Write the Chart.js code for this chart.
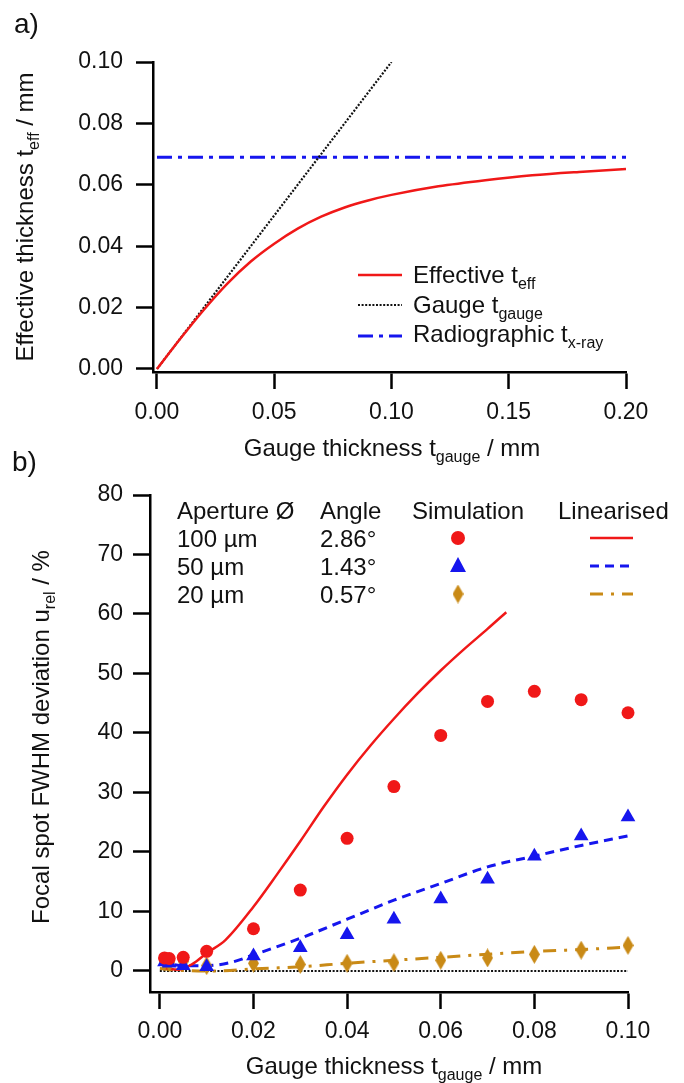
<!DOCTYPE html>
<html><head><meta charset="utf-8">
<script src="https://cdn.jsdelivr.net/npm/chart.js@4.4.1/dist/chart.umd.min.js"></script>
<style>
html,body{margin:0;padding:0;background:#fff;}
#wrap{position:relative;width:684px;height:1083px;}
canvas{position:absolute;left:0;top:0;}
</style></head><body>
<div id="wrap">
<canvas id="ca" width="684" height="1083"></canvas>
<canvas id="cb" width="684" height="1083"></canvas>
</div>
<script>
// ---------- Panel a data ----------
const gaugeA     = [0, 0.01, 0.02, 0.03, 0.04, 0.05, 0.06, 0.07, 0.08, 0.09, 0.10, 0.12, 0.14, 0.16, 0.18, 0.20];
const effectiveA = [0, 0.0099, 0.0193, 0.0278, 0.0350, 0.0408, 0.0457, 0.0496, 0.0526, 0.0549, 0.0567, 0.0595, 0.0615, 0.0631, 0.0642, 0.0651];
const gaugeLineX = [0, 0.10];
const gaugeLineY = [0, 0.10];
const xrayX      = [0, 0.20];
const xrayY      = [0.069, 0.069];
const ticksAX    = [0, 0.05, 0.10, 0.15, 0.20];
const ticksAY    = [0, 0.02, 0.04, 0.06, 0.08, 0.10];

// ---------- Panel b data ----------
const simX    = [0.001, 0.002, 0.005, 0.01, 0.02, 0.03, 0.04, 0.05, 0.06, 0.07, 0.08, 0.09, 0.10];
const sim100  = [2.2, 2.1, 2.3, 3.3, 7.1, 13.6, 22.3, 31.0, 39.6, 45.3, 47.0, 45.6, 43.4];
const sim50   = [1.5, 1.3, 0.9, 0.7, 2.5, 3.9, 6.1, 8.7, 12.1, 15.4, 19.3, 22.7, 25.9];
const sim20   = [1.6, 1.4, 1.6, 0.9, 1.3, 1.1, 1.3, 1.4, 1.8, 2.2, 2.8, 3.5, 4.3];
const lin100X = [0.001, 0.004, 0.007, 0.01, 0.014, 0.02, 0.025, 0.03, 0.035, 0.04, 0.045, 0.05, 0.055, 0.06, 0.065, 0.07, 0.074];
const lin100  = [0.5, 0.2, 1.2, 3.0, 5.2, 10.8, 16.2, 21.8, 27.6, 33.0, 37.9, 42.4, 46.6, 50.5, 54.1, 57.5, 60.3];
const linX    = [0, 0.005, 0.01, 0.015, 0.02, 0.03, 0.04, 0.05, 0.06, 0.07, 0.08, 0.09, 0.10];
const lin50   = [1.6, 0.9, 0.9, 1.4, 2.7, 5.5, 8.7, 11.9, 14.7, 17.5, 19.3, 21.1, 22.7];
const lin20   = [0.4, 0.1, 0.0, 0.1, 0.35, 0.7, 1.3, 1.8, 2.3, 2.8, 3.3, 3.6, 4.0];
const zeroX   = [0, 0.10];
const zeroY   = [0, 0];
const ticksBX = [0, 0.02, 0.04, 0.06, 0.08, 0.10];
const ticksBY = [0, 10, 20, 30, 40, 50, 60, 70, 80];
const apertures = ['100 µm', '50 µm', '20 µm'];
const angles    = ['2.86°', '1.43°', '0.57°'];

// ---------- styling ----------
const FONT = '"Liberation Sans", Arial, sans-serif';
const RED = '#f01818', BLUE = '#1616ee', GOLD = '#c98a16', TXT = '#111';
const DASH_XRAY = [15, 6, 4, 6];
const DASH_50 = [9, 6];
const DASH_20 = [13, 8, 3, 8];
const DOT = [2, 1.6];

const pts = (xs, ys) => xs.map((x, i) => ({x: x, y: ys[i]}));

function diamondImg(color) {
  const c = document.createElement('canvas');
  c.width = 11; c.height = 19;
  const g = c.getContext('2d');
  g.fillStyle = color;
  g.beginPath(); g.moveTo(5.5, 0); g.lineTo(11, 9.5); g.lineTo(5.5, 19); g.lineTo(0, 9.5); g.closePath(); g.fill();
  return c;
}
const DIAMOND = diamondImg(GOLD);

function axisX(min, max, ticks, h, pad, dec) {
  return {
    type: 'linear', min: min, max: max,
    afterBuildTicks: s => { s.ticks = ticks.map(v => ({value: v})); },
    afterFit: s => { s.height = h; },
    ticks: {font: {family: FONT, size: 23}, color: TXT, padding: pad, maxRotation: 0, autoSkip: false,
            callback: v => Number(v).toFixed(dec)},
    grid: {drawOnChartArea: false, drawTicks: true, tickLength: 17, tickWidth: 2.5, color: '#000'},
    border: {display: true, color: '#000', width: 2.5},
    title: {display: false}
  };
}
function axisY(min, max, ticks, w, pad, dec) {
  return {
    type: 'linear', min: min, max: max,
    afterBuildTicks: s => { s.ticks = ticks.map(v => ({value: v})); },
    afterFit: s => { s.width = w; },
    ticks: {font: {family: FONT, size: 23}, color: TXT, padding: pad, autoSkip: false,
            callback: v => Number(v).toFixed(dec)},
    grid: {drawOnChartArea: false, drawTicks: true, tickLength: 17, tickWidth: 2.5, color: '#000'},
    border: {display: true, color: '#000', width: 2.5},
    title: {display: false}
  };
}

function drawRich(ctx, parts, x, y, opt) {
  opt = opt || {};
  const size = opt.size || 24, sub = opt.sub || 16;
  const mainF = size + 'px ' + FONT, subF = sub + 'px ' + FONT;
  ctx.save();
  ctx.translate(x, y);
  if (opt.rot) ctx.rotate(opt.rot);
  let w = 0;
  for (const p of parts) { ctx.font = p[1] ? subF : mainF; w += ctx.measureText(p[0]).width; }
  let cx = opt.align === 'center' ? -w / 2 : (opt.align === 'right' ? -w : 0);
  ctx.textBaseline = 'alphabetic';
  ctx.fillStyle = TXT;
  for (const p of parts) {
    ctx.font = p[1] ? subF : mainF;
    ctx.fillText(p[0], cx, p[1] ? 6 : 0);
    cx += ctx.measureText(p[0]).width;
  }
  ctx.restore();
}
function sample(ctx, x1, x2, y, color, dash, width) {
  ctx.save();
  ctx.strokeStyle = color; ctx.lineWidth = width; ctx.setLineDash(dash);
  ctx.beginPath(); ctx.moveTo(x1, y); ctx.lineTo(x2, y); ctx.stroke();
  ctx.restore();
}

// ---------- Panel a ----------
const textA = {
  id: 'textA',
  afterDraw(chart) {
    const ctx = chart.ctx;
    drawRich(ctx, [['a)', 0]], 14, 33, {size: 28});
    drawRich(ctx, [['Effective thickness t', 0], ['eff', 1], [' / mm', 0]], 33, 217, {rot: -Math.PI / 2, align: 'center'});
    drawRich(ctx, [['Gauge thickness t', 0], ['gauge', 1], [' / mm', 0]], 392, 456, {align: 'center'});
    sample(ctx, 358, 402, 275, RED, [], 2.5);
    sample(ctx, 358, 402, 305, '#111', DOT, 2.2);
    sample(ctx, 358, 402, 336, BLUE, DASH_XRAY, 3);
    drawRich(ctx, [['Effective t', 0], ['eff', 1]], 413, 283);
    drawRich(ctx, [['Gauge t', 0], ['gauge', 1]], 413, 313);
    drawRich(ctx, [['Radiographic t', 0], ['x-ray', 1]], 413, 342);
  }
};

new Chart(document.getElementById('ca'), {
  type: 'line',
  data: {
    datasets: [
      {label: 'Effective', data: pts(gaugeA, effectiveA), borderColor: RED, borderWidth: 2.5, pointRadius: 0, cubicInterpolationMode: 'monotone', fill: false},
      {label: 'Gauge', data: pts(gaugeLineX, gaugeLineY), borderColor: '#111', borderWidth: 2.2, borderDash: DOT, pointRadius: 0, fill: false},
      {label: 'Radiographic', data: pts(xrayX, xrayY), borderColor: BLUE, borderWidth: 3, borderDash: DASH_XRAY, pointRadius: 0, fill: false}
    ]
  },
  options: {
    responsive: false, animation: false, events: [],
    layout: {padding: {left: 0, top: 62, right: 58, bottom: 653}},
    plugins: {legend: {display: false}, tooltip: {enabled: false}},
    scales: {
      x: axisX(-0.0017, 0.20, ticksAX, 58, 10, 2),
      y: axisY(-0.001, 0.10, ticksAY, 153, 13, 2)
    }
  },
  plugins: [textA]
});

// ---------- Panel b ----------
const textB = {
  id: 'textB',
  afterDraw(chart) {
    const ctx = chart.ctx;
    drawRich(ctx, [['b)', 0]], 12, 471, {size: 28});
    drawRich(ctx, [['Focal spot FWHM deviation u', 0], ['rel', 1], [' / %', 0]], 49, 737, {rot: -Math.PI / 2, align: 'center'});
    drawRich(ctx, [['Gauge thickness t', 0], ['gauge', 1], [' / mm', 0]], 394, 1074, {align: 'center'});
    const hy = 518.5, rows = [538, 566, 594];
    drawRich(ctx, [['Aperture Ø', 0]], 177, hy);
    drawRich(ctx, [['Angle', 0]], 320, hy);
    drawRich(ctx, [['Simulation', 0]], 412, hy);
    drawRich(ctx, [['Linearised', 0]], 558, hy);
    for (let i = 0; i < 3; i++) {
      drawRich(ctx, [[apertures[i], 0]], 177, rows[i] + 8.5);
      drawRich(ctx, [[angles[i], 0]], 320, rows[i] + 8.5);
    }
    ctx.save();
    ctx.fillStyle = RED; ctx.beginPath(); ctx.arc(458, rows[0], 7, 0, Math.PI * 2); ctx.fill();
    ctx.fillStyle = BLUE; ctx.beginPath();
    ctx.moveTo(458, rows[1] - 9); ctx.lineTo(466, rows[1] + 6); ctx.lineTo(450, rows[1] + 6); ctx.closePath(); ctx.fill();
    ctx.drawImage(DIAMOND, 458 - 5.5, rows[2] - 9.5);
    ctx.restore();
    sample(ctx, 590, 633, rows[0], RED, [], 2.5);
    sample(ctx, 590, 633, rows[1], BLUE, DASH_50, 3);
    sample(ctx, 590, 633, rows[2], GOLD, DASH_20, 3);
  }
};

new Chart(document.getElementById('cb'), {
  type: 'line',
  data: {
    datasets: [
      {label: '100 µm sim', data: pts(simX, sim100), showLine: false, pointStyle: 'circle', pointRadius: 6.5, pointBackgroundColor: RED, pointBorderWidth: 0, borderColor: RED, order: 0, clip: false},
      {label: '50 µm sim', data: pts(simX, sim50), showLine: false, pointStyle: 'triangle', pointRadius: 8.5, pointBackgroundColor: BLUE, pointBorderWidth: 0, borderColor: BLUE, order: 0, clip: false},
      {label: '20 µm sim', data: pts(simX, sim20), showLine: false, pointStyle: DIAMOND, pointRadius: 9, pointBackgroundColor: GOLD, pointBorderWidth: 0, borderColor: GOLD, order: 0, clip: false},
      {label: '100 µm lin', data: pts(lin100X, lin100), borderColor: RED, borderWidth: 2.5, pointRadius: 0, cubicInterpolationMode: 'monotone', fill: false, order: 1},
      {label: '50 µm lin', data: pts(linX, lin50), borderColor: BLUE, borderWidth: 3, borderDash: DASH_50, pointRadius: 0, cubicInterpolationMode: 'monotone', fill: false, order: 1},
      {label: '20 µm lin', data: pts(linX, lin20), borderColor: GOLD, borderWidth: 3, borderDash: DASH_20, pointRadius: 0, cubicInterpolationMode: 'monotone', fill: false, order: 1},
      {label: 'zero', data: pts(zeroX, zeroY), borderColor: '#111', borderWidth: 2.2, borderDash: DOT, pointRadius: 0, fill: false, order: 2}
    ]
  },
  options: {
    responsive: false, animation: false, events: [],
    layout: {padding: {left: 0, top: 495, right: 56, bottom: 0}},
    plugins: {legend: {display: false}, tooltip: {enabled: false}},
    scales: {
      x: axisX(-0.0021, 0.10, ticksBX, 91, 9, 2),
      y: axisY(-3.53, 80, ticksBY, 150, 10, 0)
    }
  },
  plugins: [textB]
});
</script>
</body></html>
